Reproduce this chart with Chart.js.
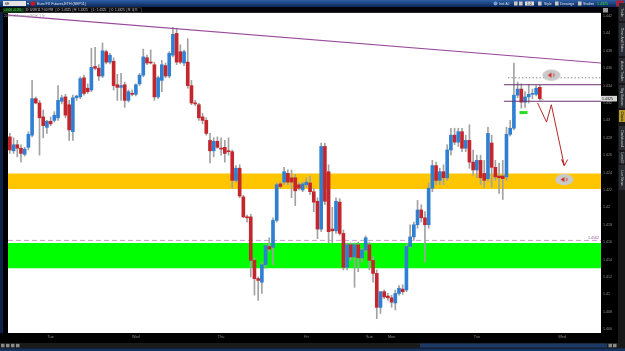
<!DOCTYPE html>
<html>
<head>
<meta charset="utf-8">
<title>6E hourly</title>
<script src="https://cdn.jsdelivr.net/npm/chart.js@4.4.0/dist/chart.umd.min.js"></script>
<style>
  html, body { margin: 0; padding: 0; background: #000; overflow: hidden; }
  #chart { display: block; }
</style>
</head>
<body>
<canvas id="chart" width="625" height="351"></canvas>
<script>
// hourly candles, Euro FX futures (ETH), one entry per bar
const opens = [
  1.4281,1.4265,1.4272,1.4268,1.4261,1.4269,1.4283,1.4325,1.4320,1.4304,1.4292,1.4299,
  1.4300,1.4303,1.4322,1.4327,1.4318,1.4287,1.4326,1.4327,1.4349,1.4337,1.4335,1.4362,
  1.4360,1.4351,1.4379,1.4367,1.4368,1.4341,1.4338,1.4341,1.4323,1.4331,1.4330,1.4342,
  1.4352,1.4372,1.4367,1.4364,1.4327,1.4346,1.4363,1.4351,1.4375,1.4400,1.4379,1.4366,
  1.4367,1.4340,1.4320,1.4318,1.4304,1.4300,1.4277,1.4265,1.4276,1.4268,1.4269,1.4265,
  1.4264,1.4231,1.4245,1.4212,1.4189,1.4189,1.4139,1.4118,1.4114,1.4134,1.4155,1.4154,
  1.4185,1.4227,1.4229,1.4239,1.4234,1.4234,1.4226,1.4220,1.4226,1.4228,1.4218,1.4207,
  1.4175,1.4270,1.4241,1.4175,1.4173,1.4206,1.4170,1.4131,1.4157,1.4143,1.4157,1.4142,
  1.4151,1.4157,1.4139,1.4124,1.4085,1.4103,1.4098,1.4096,1.4090,1.4101,1.4106,1.4105,
  1.4155,1.4166,1.4180,1.4197,1.4188,1.4180,1.4222,1.4248,1.4231,1.4241,1.4234,1.4266,
  1.4283,1.4275,1.4287,1.4268,1.4277,1.4252,1.4243,1.4254,1.4239,1.4233,1.4274,1.4246,
  1.4236,1.4236,1.4235,1.4284,1.4291,1.4329,1.4336,1.4321,1.4327,1.4330,1.4330,1.4338
];
const highs = [
  1.4285,1.4280,1.4277,1.4272,1.4269,1.4287,1.4346,1.4327,1.4323,1.4312,1.4300,1.4304,
  1.4310,1.4340,1.4329,1.4330,1.4323,1.4329,1.4329,1.4350,1.4352,1.4342,1.4383,1.4384,
  1.4364,1.4389,1.4381,1.4377,1.4372,1.4353,1.4354,1.4344,1.4335,1.4335,1.4342,1.4354,
  1.4382,1.4375,1.4381,1.4367,1.4351,1.4369,1.4366,1.4379,1.4407,1.4406,1.4387,1.4381,
  1.4394,1.4346,1.4323,1.4320,1.4308,1.4303,1.4285,1.4280,1.4281,1.4280,1.4277,1.4280,
  1.4266,1.4248,1.4249,1.4214,1.4191,1.4192,1.4142,1.4120,1.4137,1.4158,1.4165,1.4188,
  1.4228,1.4229,1.4246,1.4243,1.4243,1.4238,1.4229,1.4229,1.4234,1.4236,1.4222,1.4211,
  1.4274,1.4274,1.4249,1.4200,1.4211,1.4210,1.4174,1.4159,1.4159,1.4159,1.4160,1.4153,
  1.4167,1.4160,1.4143,1.4128,1.4103,1.4105,1.4101,1.4099,1.4105,1.4110,1.4111,1.4158,
  1.4180,1.4183,1.4208,1.4203,1.4195,1.4228,1.4254,1.4252,1.4245,1.4249,1.4272,1.4291,
  1.4291,1.4291,1.4291,1.4283,1.4295,1.4266,1.4260,1.4260,1.4254,1.4292,1.4283,1.4254,
  1.4251,1.4254,1.4292,1.4300,1.4366,1.4344,1.4342,1.4333,1.4341,1.4336,1.4340,1.4341
];
const lows = [
  1.4262,1.4262,1.4258,1.4252,1.4259,1.4266,1.4281,1.4319,1.4260,1.4280,1.4285,1.4294,
  1.4298,1.4300,1.4319,1.4303,1.4277,1.4277,1.4323,1.4325,1.4329,1.4331,1.4333,1.4358,
  1.4346,1.4349,1.4365,1.4365,1.4335,1.4323,1.4323,1.4315,1.4321,1.4328,1.4328,1.4340,
  1.4350,1.4364,1.4365,1.4323,1.4325,1.4333,1.4349,1.4349,1.4373,1.4364,1.4365,1.4363,
  1.4337,1.4318,1.4317,1.4300,1.4296,1.4283,1.4251,1.4258,1.4268,1.4260,1.4252,1.4260,
  1.4222,1.4229,1.4211,1.4188,1.4183,1.4120,1.4099,1.4093,1.4101,1.4130,1.4149,1.4134,
  1.4183,1.4222,1.4226,1.4226,1.4211,1.4202,1.4220,1.4218,1.4223,1.4215,1.4195,1.4164,
  1.4172,1.4203,1.4159,1.4159,1.4170,1.4168,1.4128,1.4128,1.4139,1.4108,1.4126,1.4137,
  1.4149,1.4128,1.4114,1.4072,1.4078,1.4095,1.4093,1.4085,1.4082,1.4099,1.4100,1.4103,
  1.4153,1.4162,1.4176,1.4183,1.4137,1.4176,1.4218,1.4226,1.4226,1.4226,1.4231,1.4260,
  1.4272,1.4270,1.4264,1.4264,1.4245,1.4237,1.4234,1.4226,1.4223,1.4230,1.4223,1.4231,
  1.4216,1.4209,1.4231,1.4282,1.4289,1.4326,1.4314,1.4315,1.4320,1.4325,1.4328,1.4323
];
const closes = [
  1.4266,1.4272,1.4268,1.4262,1.4267,1.4284,1.4325,1.4320,1.4303,1.4294,1.4299,1.4296,
  1.4306,1.4323,1.4326,1.4306,1.4289,1.4326,1.4328,1.4348,1.4331,1.4333,1.4361,1.4360,
  1.4351,1.4380,1.4367,1.4375,1.4340,1.4338,1.4340,1.4323,1.4333,1.4330,1.4341,1.4352,
  1.4373,1.4366,1.4366,1.4327,1.4349,1.4364,1.4351,1.4377,1.4399,1.4367,1.4367,1.4379,
  1.4340,1.4320,1.4319,1.4303,1.4300,1.4285,1.4265,1.4276,1.4269,1.4267,1.4262,1.4264,
  1.4231,1.4245,1.4213,1.4189,1.4188,1.4139,1.4118,1.4116,1.4134,1.4156,1.4152,1.4185,
  1.4226,1.4224,1.4241,1.4229,1.4229,1.4219,1.4222,1.4227,1.4229,1.4218,1.4206,1.4175,
  1.4270,1.4207,1.4172,1.4173,1.4207,1.4170,1.4131,1.4157,1.4143,1.4157,1.4142,1.4151,
  1.4165,1.4139,1.4124,1.4085,1.4103,1.4097,1.4096,1.4091,1.4101,1.4107,1.4103,1.4155,
  1.4166,1.4180,1.4197,1.4188,1.4180,1.4222,1.4248,1.4231,1.4241,1.4234,1.4266,1.4283,
  1.4275,1.4287,1.4268,1.4277,1.4252,1.4243,1.4254,1.4234,1.4231,1.4285,1.4246,1.4235,
  1.4234,1.4233,1.4284,1.4291,1.4329,1.4336,1.4321,1.4327,1.4330,1.4331,1.4337,1.4325
];

// axis labels
const dayLabels = ['Tue', 'Wed', 'Thu', 'Fri', 'Sun', 'Mon', 'Tue', 'Wed'];
const dayTicks = [11, 34, 57, 80, 97, 103, 126, 149];
const priceTicks = [1.406, 1.408, 1.41, 1.412, 1.414, 1.416, 1.418, 1.42, 1.422, 1.424,
                    1.426, 1.428, 1.43, 1.432, 1.434, 1.436, 1.438, 1.44, 1.442];

// drawings
const supplyZone = [1.4221, 1.4239];
const demandZone = [1.4130, 1.4159];
const trendX = [-0.5, 159.5];
const trendY = [1.4421, 1.4366];
const rangeLevels = [1.4341, 1.4322];
const rangeStart = 133.3;
const targetLevel = 1.4349;
const targetStart = 134.4;
const pivotLevel = 1.4162;
const arrowX = [142.4, 144.8, 146.1, 149.6, 148.9, 149.6, 150.5];
const arrowY = [1.4320, 1.4298, 1.4318, 1.4248, 1.4255, 1.4248, 1.4255];
const alertX = [146.1, 149.6];
const alertY = [1.4352, 1.4232];
const entryMark = [138.6, 1.4309];
const lastPrice = 1.4325;

const UP = '#2f7fd2';
const DOWN = '#c3262d';
const WICK = '#a2a2a2';

const bodyColors = opens.map((o, i) => closes[i] >= o ? UP : DOWN);
const wickData = lows.map((l, i) => ({ x: i, y: [l, highs[i]] }));
const bodyData = opens.map((o, i) => ({ x: i, y: [o, closes[i]] }));

function levelLine(y, from) {
  return [{ x: from, y: y }, { x: 159.5, y: y }];
}

// grey bubble with a red alert glyph
function alertIcon() {
  const c = document.createElement('canvas');
  c.width = 19; c.height = 13;
  const g = c.getContext('2d');
  g.fillStyle = '#c9c9c9';
  g.beginPath(); g.ellipse(9.5, 6.5, 9, 5.8, 0, 0, Math.PI * 2); g.fill();
  g.fillStyle = '#d11f1f';
  g.beginPath(); g.moveTo(6, 6.5); g.lineTo(9.5, 4); g.lineTo(9.5, 9); g.closePath(); g.fill();
  g.strokeStyle = '#d11f1f'; g.lineWidth = 0.8;
  g.beginPath(); g.arc(10, 6.5, 2.2, -1, 1); g.stroke();
  return c;
}
const bubble = alertIcon();

function txt(ctx, s, x, y, color, size, align) {
  ctx.fillStyle = color;
  ctx.font = size + 'px "Liberation Sans", Arial, sans-serif';
  ctx.textAlign = align || 'left';
  ctx.textBaseline = 'middle';
  ctx.fillText(s, x, y);
}

// the ThinkOrSwim window around the plot
const chromePlugin = {
  id: 'chrome',
  beforeDraw(chart) {
    const { ctx, chartArea: a, width, height } = chart;
    ctx.save();
    ctx.fillStyle = '#000';
    ctx.fillRect(0, 0, width, height);
    const g = ctx.createLinearGradient(0, 0, 0, 7);
    g.addColorStop(0, '#2e60a8');
    g.addColorStop(1, '#0a2656');
    ctx.fillStyle = g;
    ctx.fillRect(0, 0, width, 7);
    ctx.fillStyle = '#04040a';
    ctx.fillRect(0, 7, width, 6);
    ctx.fillStyle = '#3c3c3c';
    ctx.fillRect(0, 12.4, 601, 0.8);
    ctx.fillStyle = '#0c2148';
    ctx.fillRect(0, 13, 3, 320);
    ctx.fillStyle = '#fff';
    ctx.fillRect(a.left, a.top, a.right - a.left, a.bottom - a.top);
    // side tabs
    ctx.fillStyle = '#181818';
    ctx.fillRect(618, 7, 7, 344);
    // scrollbar
    ctx.fillStyle = '#1b1b1b';
    ctx.fillRect(0, 343, 620, 5);
    ctx.fillStyle = '#1d3a66';
    ctx.fillRect(420, 343.5, 187, 4);
    ctx.fillStyle = '#8a8a8a';
    [1, 6, 11, 16].forEach(x => ctx.fillRect(x, 343.8, 3.5, 3.5));
    ctx.fillRect(608.5, 343.8, 3.5, 3.5);
    ctx.fillRect(613, 343.8, 3.5, 3.5);
    ctx.fillStyle = '#15335f';
    ctx.fillRect(0, 348.3, width, 2.7);
    ctx.restore();
  },
  afterDraw(chart) {
    const { ctx, scales } = chart;
    ctx.save();
    // title row
    ctx.fillStyle = '#e4e4e4';
    ctx.fillRect(3, 1, 23, 5);
    txt(ctx, '6E', 5, 3.7, '#111', 3.6);
    txt(ctx, '\u25BE', 27.2, 3.6, '#cfd6e2', 3.6);
    ctx.fillStyle = '#d01818';
    ctx.fillRect(31, 1.5, 4, 4);
    txt(ctx, 'Euro FX Futures,ETH (SEP11)', 37, 3.7, '#dfe6f2', 3.6);
    ctx.fillStyle = '#7d9bd6';
    ctx.beginPath(); ctx.arc(495.5, 3.5, 2, 0, Math.PI * 2); ctx.fill();
    txt(ctx, 'Inst A.I', 499, 3.7, '#dfe6f2', 3.4);
    ctx.fillStyle = '#c8c8c8';
    [514, 519, 538, 555, 578].forEach(x => ctx.fillRect(x, 1.5, 3.6, 4));
    ctx.fillStyle = '#dedede';
    ctx.fillRect(525, 1.5, 9, 4);
    txt(ctx, '1.0', 527, 3.7, '#111', 3.2);
    txt(ctx, 'Style', 544, 3.7, '#dfe6f2', 3.4);
    txt(ctx, 'Drawings', 560, 3.7, '#dfe6f2', 3.4);
    txt(ctx, 'Studies', 583, 3.7, '#dfe6f2', 3.4);
    txt(ctx, '1.4325', 597, 3.7, '#38e038', 3.6);
    ctx.fillStyle = '#a8243a';
    ctx.fillRect(616, 0.5, 8, 6);

    // quote row
    ctx.fillStyle = '#0c3a12';
    ctx.fillRect(3, 7.8, 21, 4.6);
    txt(ctx, '+0.00 -0.0%', 4, 10.2, '#52e052', 3.2);
    const quote = ['D: 6/09/11 7:00 PM', 'O: 1.4325', 'H: 1.4325', 'L: 1.4325', 'C: 1.4325', 'R: 0', 'V:'];
    const qx = [25, 56, 73, 92, 110, 127, 134, 142];
    ctx.strokeStyle = '#4a4a4a';
    ctx.lineWidth = 0.6;
    quote.forEach((q, i) => {
      ctx.strokeRect(qx[i], 7.9, qx[i + 1] - qx[i] - 0.6, 4.4);
      txt(ctx, q, qx[i] + 1, 10.2, '#c9c9c9', 3.2);
    });
    ctx.fillStyle = '#9a9a9a';
    ctx.fillRect(603, 8, 5, 4.5);

    // study caption inside the plot
    txt(ctx, '2010 6 13 session(ETH) 1 hr', 4, 16.6, '#9d9d9d', 3.2);

    // pivot label
    const py = scales.y.getPixelForValue(pivotLevel);
    txt(ctx, '1.4162', 599, py - 2.6, '#8d4a9d', 3.6, 'right');

    // last price tag on the axis
    const ly = scales.y.getPixelForValue(lastPrice);
    ctx.fillStyle = '#d6d6d6';
    ctx.fillRect(601, ly - 2.8, 16, 5.6);
    txt(ctx, '1.4325', 602, ly + 0.2, '#111', 3.6);

    // side tabs
    const tabs = [['Trade', 3, 22], ['Time And Sales', 23, 57], ['Active Trader', 58, 84],
      ['Big Buttons', 85, 109], ['Charts', 110, 123], ['Dashboard', 126, 151],
      ['Level II', 152, 164], ['Live News', 165, 191]];
    tabs.forEach(([name, y0, y1]) => {
      ctx.fillStyle = name === 'Charts' ? '#b89a2a' : '#2a2d33';
      ctx.fillRect(619, y0, 6, y1 - y0 - 1);
      ctx.save();
      ctx.translate(622, (y0 + y1) / 2);
      ctx.rotate(Math.PI / 2);
      txt(ctx, name, 0, 0, name === 'Charts' ? '#111' : '#c8c8c8', 3.4, 'center');
      ctx.restore();
    });
    ctx.restore();
  }
};

const lineBase = { type: 'line', pointRadius: 0, borderWidth: 1, fill: false, tension: 0 };

new Chart(document.getElementById('chart'), {
  type: 'bar',
  data: {
    datasets: [
      { ...lineBase, data: levelLine(supplyZone[1], -0.5), borderWidth: 0,
        fill: { value: supplyZone[0] }, backgroundColor: '#ffc600', order: 10 },
      { ...lineBase, data: levelLine(demandZone[1], -0.5), borderWidth: 0,
        fill: { value: demandZone[0] }, backgroundColor: '#00ff00', order: 10 },
      { ...lineBase, data: levelLine(pivotLevel, -0.5), borderColor: '#c9a3cf',
        borderDash: [5, 3], order: 9 },
      { data: wickData, backgroundColor: WICK, barThickness: 1, grouped: false, order: 5 },
      { data: bodyData, backgroundColor: bodyColors, barThickness: 3, minBarLength: 1,
        grouped: false, order: 4 },
      { ...lineBase, data: trendX.map((x, i) => ({ x: x, y: trendY[i] })),
        borderColor: '#9a4a9c', borderWidth: 1.2, order: 2 },
      { ...lineBase, data: levelLine(rangeLevels[0], rangeStart), borderColor: '#6e2f70', order: 2 },
      { ...lineBase, data: levelLine(rangeLevels[1], rangeStart), borderColor: '#6e2f70', order: 2 },
      { ...lineBase, data: levelLine(targetLevel, targetStart), borderColor: '#8a8a8a',
        borderDash: [1.5, 2], order: 2 },
      { ...lineBase, data: arrowX.map((x, i) => ({ x: x, y: arrowY[i] })),
        borderColor: '#b42a2a', borderWidth: 1, order: 1 },
      { type: 'scatter', data: alertX.map((x, i) => ({ x: x, y: alertY[i] })),
        pointStyle: bubble, pointRadius: 7, order: 0 },
      { type: 'scatter', data: [{ x: entryMark[0], y: entryMark[1] }],
        pointStyle: 'line', pointRadius: 4, pointBorderWidth: 3,
        pointBorderColor: '#22dd22', order: 0 },
      { type: 'scatter', data: [{ x: 143.7, y: 1.4324 }],
        pointStyle: 'rect', pointRadius: 1.3, pointBackgroundColor: '#bbbbbb',
        pointBorderWidth: 0, order: 0 }
    ]
  },
  options: {
    responsive: false,
    animation: false,
    layout: { padding: { left: 3, top: 13, right: 5, bottom: 0 } },
    plugins: { legend: { display: false }, tooltip: { enabled: false } },
    scales: {
      x: {
        type: 'linear', min: -0.5, max: 159.5, offset: false,
        grid: { display: false, drawTicks: false }, border: { display: false },
        afterBuildTicks: ax => { ax.ticks = dayTicks.map(v => ({ value: v })); },
        afterFit: ax => { ax.height = 18; },
        ticks: {
          autoSkip: false, maxRotation: 0, padding: 2, color: '#8b8b84',
          font: { size: 3.8 }, callback: (v, i) => dayLabels[i]
        }
      },
      y: {
        position: 'right', min: 1.40555, max: 1.44235,
        grid: { display: false, drawTicks: false }, border: { display: false },
        afterBuildTicks: ax => { ax.ticks = priceTicks.map(v => ({ value: v })); },
        afterFit: ax => { ax.width = 19; },
        ticks: {
          padding: 2, color: '#8e8e8e', font: { size: 3.6 },
          callback: v => String(+v.toFixed(3))
        }
      }
    }
  },
  plugins: [chromePlugin]
});
</script>
</body>
</html>
